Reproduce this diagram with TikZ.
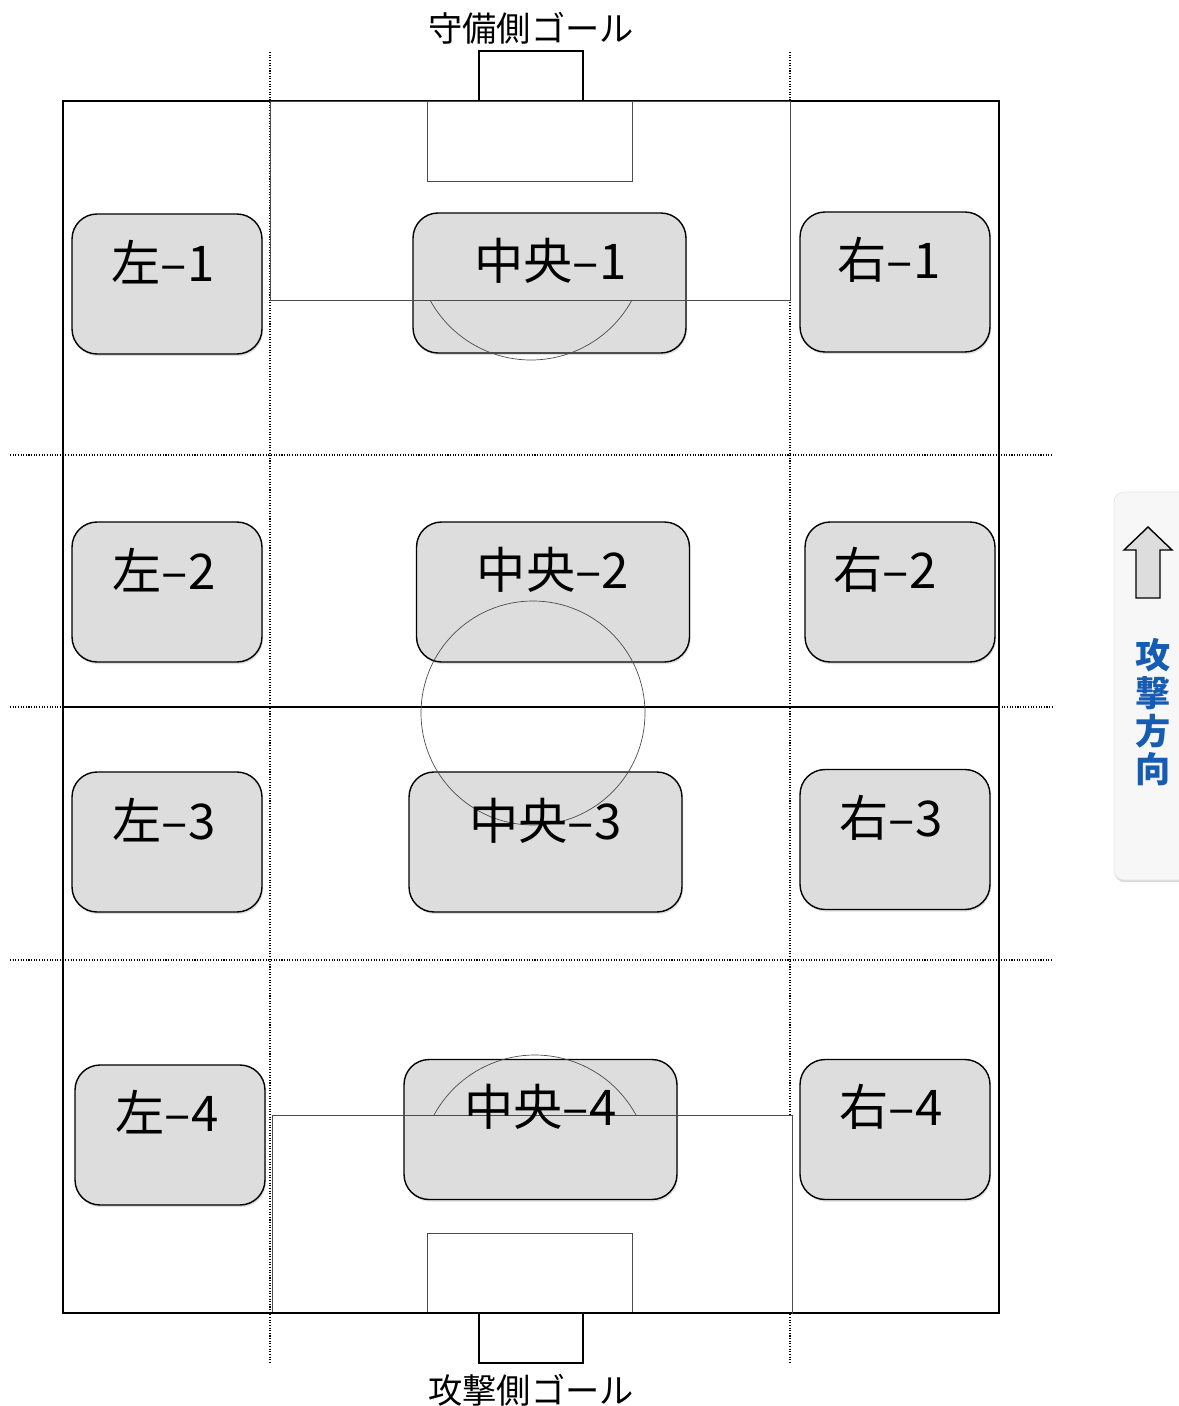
\documentclass[tikz,border=0pt]{standalone}
\usepackage{fontspec}
\setmainfont{Noto Sans CJK JP}
\usetikzlibrary{shadows,calc}
\definecolor{cellgray}{RGB}{221,221,221}
\definecolor{dirblue}{RGB}{22,92,178}

\begin{document}
\begin{tikzpicture}[x=0.02cm, y=-0.02cm,
  cell/.style={draw, line width=0.8pt, fill=cellgray, rounded corners=0.5cm,
    minimum height=2.8cm, drop shadow={shadow xshift=0.6pt, shadow yshift=-1.2pt, opacity=0.25}},
  side/.style={cell, minimum width=3.8cm},
  mid/.style={cell, minimum width=5.46cm},
  celltxt/.style={font=\fontsize{28}{32}\selectfont},
  fieldline/.style={draw=black!70, line width=0.4pt},
  zone/.style={line width=0.6pt, dash pattern=on 0.6pt off 0.9pt},
  goal/.style={draw, line width=0.9pt, fill=white}]
  \useasboundingbox (0,0) rectangle (1178,1406);

  \draw[zone] (270,52) -- (270,1363);
  \draw[zone] (790,52) -- (790,1363);
  \draw[zone] (10,455) -- (1053,455);
  \draw[zone] (10,960) -- (1053,960);
  \draw[zone] (10,707) -- (63,707);
  \draw[zone] (999,707) -- (1053,707);

  \filldraw[goal] (479,51) rectangle (583,101);
  \filldraw[goal] (479,1313) rectangle (583,1363);
  \draw[line width=1.1pt] (63,101) rectangle (999,1313);
  \draw[line width=1.1pt] (63,707) -- (999,707);

  \filldraw[fieldline, fill=white, drop shadow={shadow xshift=0.5pt, shadow yshift=-0.8pt, opacity=0.2}] (270,101) rectangle (790,300);
  \filldraw[fieldline, fill=white, drop shadow={shadow xshift=0.5pt, shadow yshift=-0.8pt, opacity=0.2}] (427,101) rectangle (632,181);
  \filldraw[fieldline, fill=white] (272,1115) rectangle (792,1313);
  \filldraw[fieldline, fill=white, drop shadow={shadow xshift=0.5pt, shadow yshift=-0.8pt, opacity=0.2}] (427,1233) rectangle (632,1313);
  \draw[line width=1.1pt] (272,1313) -- (792,1313);

  \node[side] (l1) at (167,284) {};
  \node[mid] (c1) at (549.5,283) {};
  \node[side] (r1) at (895,282) {};
  \node[side] (l2) at (167,592) {};
  \node[mid] (c2) at (553,592) {};
  \node[side] (r2) at (900,592) {};
  \node[side] (l3) at (167,842) {};
  \node[mid] (c3) at (545.5,842) {};
  \node[side] (r3) at (895,839.5) {};
  \node[side] (l4) at (170,1135) {};
  \node[mid] (c4) at (540.5,1129.5) {};
  \node[side] (r4) at (895,1129.5) {};

  \draw[fieldline] (270,300) -- (790,300);
  \draw[fieldline] (272,1115) -- (792,1115);
  \draw[fieldline] (531,245) ++(28.6:115) arc (28.6:151.4:115);
  \draw[fieldline] (535,1170) ++(-28.6:115) arc (-28.6:-151.4:115);
  \draw[fieldline] (533,713) circle (112);

  \node[celltxt] (tl1) at ($(l1.north)+(-4,49)$) {左–1};
  \node[celltxt] (tc1) at ($(c1.north)+(1,49)$) {中央–1};
  \node[celltxt] (tr1) at ($(r1.north)+(-6,49)$) {右–1};
  \node[celltxt] (tl2) at ($(l2.north)+(-3,49)$) {左–2};
  \node[celltxt] (tc2) at ($(c2.north)+(0,49)$) {中央–2};
  \node[celltxt] (tr2) at ($(r2.north)+(-15,49)$) {右–2};
  \node[celltxt] (tl3) at ($(l3.north)+(-3,49)$) {左–3};
  \node[celltxt] (tc3) at ($(c3.north)+(0,50)$) {中央–3};
  \node[celltxt] (tr3) at ($(r3.north)+(-4,49)$) {右–3};
  \node[celltxt] (tl4) at ($(l4.north)+(-3,48)$) {左–4};
  \node[celltxt] (tc4) at ($(c4.north)+(0,48)$) {中央–4};
  \node[celltxt] (tr4) at ($(r4.north)+(-4,48)$) {右–4};

  \node[font=\fontsize{19.5}{22}\selectfont] (topgoal) at (531,28) {守備側ゴール};
  \node[font=\fontsize{19.5}{22}\selectfont] (botgoal) at (531,1390) {攻撃側ゴール};

  \filldraw[draw=black!10, fill=black!3, rounded corners=0.2cm,
    drop shadow={shadow xshift=0.3pt, shadow yshift=-1.2pt, opacity=0.3}] (1114,492) rectangle (1200,880);
  \filldraw[line width=0.8pt, fill=cellgray] (1136,598) -- (1136,550) -- (1124,550) -- (1148,527)
    -- (1172,550) -- (1160,550) -- (1160,598) -- cycle;
  \node[font=\fontsize{20}{21.5}\selectfont\bfseries, text=dirblue, align=center] (dir) at (1153,712)
    {攻\\撃\\方\\向};
\end{tikzpicture}
\end{document}
